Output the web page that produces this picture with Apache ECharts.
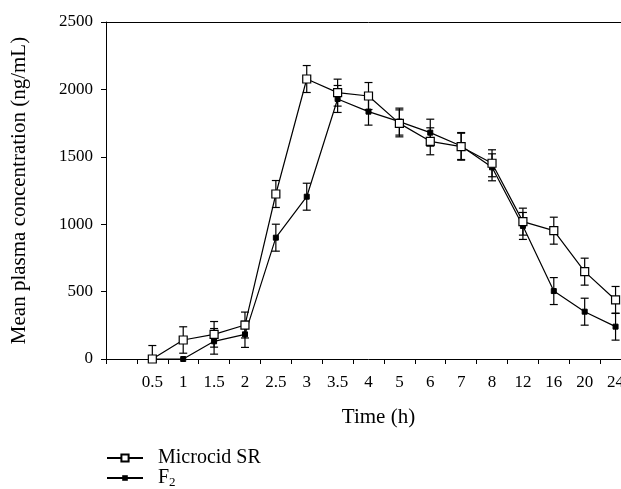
<!DOCTYPE html>
<html>
<head>
<meta charset="utf-8">
<script src="https://cdn.jsdelivr.net/npm/echarts@6/dist/echarts.min.js"></script>
<style>html,body{margin:0;padding:0;background:#fff;overflow:hidden;width:621px;height:489px;}#c{width:632px;height:489px;}</style>
</head>
<body>
<div id="c"></div>
<script>
var timeLabels = ['0.5','1','1.5','2','2.5','3','3.5','4','5','6','7','8','12','16','20','24'];
var microcidSR = [0,141,183,252,1224,2077,1976,1951,1748,1615,1575,1452,1019,952,648,438];
var microcidErr = [100,98,95,96,100,100,100,100,100,100,100,100,100,100,100,100];
var f2 = [0,0,131,183,900,1204,1929,1835,1761,1679,1580,1422,987,504,351,240];
var f2Err = [0,0,95,97,100,100,100,100,100,100,100,100,100,100,100,100];
var yTicks = [0,500,1000,1500,2000,2500];

var FONT = '"Liberation Serif", "DejaVu Serif", serif';
var axisCats = [''].concat(timeLabels);

function pts(vals){ return vals.map(function(v,i){ return [timeLabels[i], v]; }); }
function errData(vals, errs){
  var out = [];
  vals.forEach(function(v,i){ if (errs[i] > 0) out.push([i+1, Math.max(0, v-errs[i]), v+errs[i]]); });
  return out;
}
function errRender(params, api){
  var x = api.value(0);
  var lo = api.coord([x, api.value(1)]);
  var hi = api.coord([x, api.value(2)]);
  var w = 4;
  var st = {stroke:'#000', lineWidth:1.2};
  return {type:'group', children:[
    {type:'line', shape:{x1:lo[0],y1:lo[1],x2:hi[0],y2:hi[1]}, style:st},
    {type:'line', shape:{x1:lo[0]-w,y1:lo[1],x2:lo[0]+w,y2:lo[1]}, style:st},
    {type:'line', shape:{x1:hi[0]-w,y1:hi[1],x2:hi[0]+w,y2:hi[1]}, style:st}
  ]};
}
function legendCfg(name, top, h){
  return {
    orient:'horizontal', left:106, top:top, itemWidth:36, itemHeight:h, padding:0,
    textStyle:{fontFamily:FONT, fontSize:20, color:'#000', padding:[0,0,0,10],
      rich:{sub:{fontFamily:FONT, fontSize:13, verticalAlign:'bottom', padding:[10,0,0,0]}}},
    formatter:function(n){ return n === 'F2' ? 'F{sub|2}' : n; },
    data:[name]
  };
}

var chart = echarts.init(document.getElementById('c'), null, {renderer:'canvas', width:632, height:489});
chart.setOption({
  animation:false,
  backgroundColor:'#fff',
  textStyle:{fontFamily:FONT, color:'#000'},
  grid:{left:106, top:22, right:1, bottom:130, show:false},
  legend:[legendCfg('Microcid SR', 448, 9), legendCfg('F2', 468, 7)],
  xAxis:[{
    type:'category', data:axisCats, boundaryGap:true,
    name:'Time (h)', nameLocation:'middle', nameGap:48,
    nameTextStyle:{fontFamily:FONT, fontSize:21, color:'#000', padding:[0,0,0,20]},
    axisLine:{lineStyle:{color:'#000', width:1}},
    axisTick:{show:true, length:5, inside:false, lineStyle:{color:'#000'}},
    axisLabel:{fontFamily:FONT, fontSize:17, color:'#000', margin:15, interval:0},
    splitLine:{show:false}
  },{
    type:'category', data:axisCats, position:'top', boundaryGap:true,
    axisLine:{show:true, lineStyle:{color:'#000', width:1}},
    axisTick:{show:false}, axisLabel:{show:false}, splitLine:{show:false}
  }],
  yAxis:{
    type:'value', min:0, max:2500, interval:500,
    name:'Mean plasma concentration (ng/mL)', nameLocation:'middle', nameGap:76,
    nameTextStyle:{fontFamily:FONT, fontSize:21, color:'#000'},
    axisLine:{show:true, lineStyle:{color:'#000', width:1}},
    axisTick:{show:true, length:5, inside:false, lineStyle:{color:'#000'}},
    axisLabel:{fontFamily:FONT, fontSize:17, color:'#000', margin:13,
      formatter:function(v){ return yTicks.indexOf(v) >= 0 ? String(v) : ''; }},
    splitLine:{show:false}
  },
  series:[
    {type:'custom', name:'errMSR', renderItem:errRender, data:errData(microcidSR, microcidErr), z:1, silent:true},
    {type:'custom', name:'errF2', renderItem:errRender, data:errData(f2, f2Err), z:1, silent:true},
    {type:'line', name:'F2', data:pts(f2), symbol:'rect', symbolSize:5, showSymbol:true,
      lineStyle:{color:'#000', width:1.2}, itemStyle:{color:'#000', borderColor:'#000'}, z:3},
    {type:'line', name:'Microcid SR', data:pts(microcidSR), symbol:'rect', symbolSize:8, showSymbol:true,
      lineStyle:{color:'#000', width:1.2}, itemStyle:{color:'#fff', borderColor:'#000', borderWidth:1.2}, z:4}
  ]
});
</script>
</body>
</html>
